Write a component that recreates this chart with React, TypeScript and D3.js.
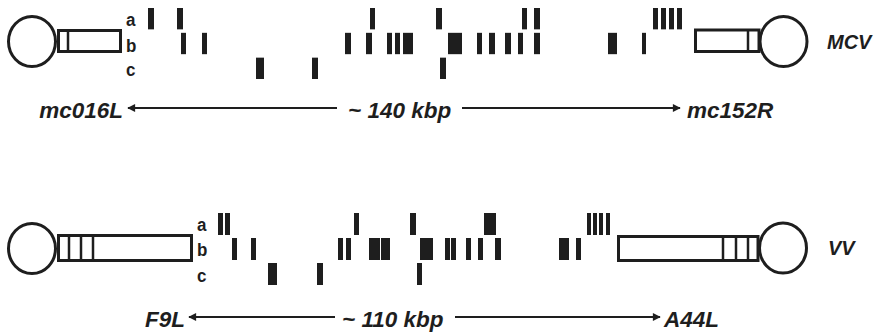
import React, { useEffect, useRef } from 'react';
import * as d3 from 'd3';

// genome map positions (map units) of the marked genes, per row
const rows = ['a', 'b', 'c'];

const mcvRowA = [[148, 154], [177, 183], [370, 375], [436, 442], [522, 527], [534, 540], [653, 658], [661, 666], [669, 674], [677, 682]];
const mcvRowB = [[181, 186], [202, 207], [345, 351], [366, 372], [387, 392], [395, 400], [403, 413], [448, 462], [477, 482], [489, 495], [505, 511], [518, 523], [534, 540], [608, 617], [642, 646]];
const mcvRowC = [[256, 264], [312, 318], [440, 446]];

const vvRowA = [[218, 223], [225, 230], [354, 359], [410, 416], [484, 496], [587, 591], [593, 597], [599, 603], [606, 610]];
const vvRowB = [[232, 237], [251, 256], [338, 343], [346, 351], [369, 380], [381, 390], [420, 433], [445, 450], [451, 456], [466, 471], [478, 483], [495, 501], [559, 569], [576, 581]];
const vvRowC = [[268, 277], [317, 323], [417, 422]];

const mcvLabels = ['mc016L', '~ 140 kbp', 'mc152R'];
const vvLabels = ['F9L', '~ 110 kbp', 'A44L'];

const W = 879;
const H = 333;
const ink = '#1e1e1e';

const App = () => {
  const ref = useRef<SVGSVGElement>(null);

  useEffect(() => {
    const svg = d3.select(ref.current).html('');
    const x = d3.scaleLinear().domain([0, W]).range([0, W]);
    const font = '"Liberation Sans", Arial, sans-serif';

    const defs = svg.append('defs');
    defs.append('marker')
      .attr('id', 'head')
      .attr('viewBox', '0 0 10 10')
      .attr('refX', 9).attr('refY', 5)
      .attr('markerWidth', 4.5).attr('markerHeight', 3.6)
      .attr('orient', 'auto-start-reverse')
      .append('path').attr('d', 'M0,0L10,5L0,10Z').attr('fill', ink);

    const genome = (cfg) => {
      const g = svg.append('g');
      const y = d3.scaleBand().domain(rows).range(cfg.rowRange).paddingInner(cfg.pad);
      const data = [cfg.a, cfg.b, cfg.c];

      // telomere hairpins
      cfg.ends.forEach(e => {
        g.append('ellipse')
          .attr('cx', e.cx).attr('cy', e.cy).attr('rx', 23.5).attr('ry', 25)
          .attr('fill', 'none').attr('stroke', ink).attr('stroke-width', 3);
        g.append('rect')
          .attr('x', e.x0).attr('y', e.y0).attr('width', e.x1 - e.x0).attr('height', e.y1 - e.y0)
          .attr('fill', 'none').attr('stroke', ink).attr('stroke-width', 3);
        e.div.forEach(d => {
          g.append('line').attr('x1', d).attr('x2', d).attr('y1', e.y0).attr('y2', e.y1)
            .attr('stroke', ink).attr('stroke-width', 2.5);
        });
      });

      // row letters
      rows.forEach((r, i) => {
        g.append('text')
          .attr('transform', `translate(${cfg.letterX},${cfg.letterBase[i]}) scale(1,1.12)`)
          .attr('font-family', font).attr('font-weight', 'bold').attr('font-size', 17)
          .attr('fill', ink).text(r);
      });

      // gene bars
      rows.forEach((r, i) => {
        g.selectAll(`rect.bar-${r}`)
          .data(data[i]).enter().append('rect')
          .attr('class', `bar-${r}`)
          .attr('x', d => x(d[0]))
          .attr('width', d => x(d[1]) - x(d[0]))
          .attr('y', y(r))
          .attr('height', y.bandwidth())
          .attr('fill', ink);
      });

      // virus name
      g.append('text')
        .attr('x', cfg.nameX).attr('y', cfg.nameY)
        .attr('font-family', font).attr('font-weight', 'bold').attr('font-style', 'italic')
        .attr('font-size', 20).attr('fill', ink).text(cfg.name);

      // span arrows
      const ay = cfg.arrowY;
      g.append('line').attr('x1', cfg.arrow[1]).attr('x2', cfg.arrow[0]).attr('y1', ay).attr('y2', ay)
        .attr('stroke', ink).attr('stroke-width', 2.2).attr('marker-end', 'url(#head)');
      g.append('line').attr('x1', cfg.arrow[2]).attr('x2', cfg.arrow[3]).attr('y1', ay).attr('y2', ay)
        .attr('stroke', ink).attr('stroke-width', 2.2).attr('marker-end', 'url(#head)');

      const t = (txt, tx, anchor) => g.append('text')
        .attr('x', tx).attr('y', cfg.textY).attr('text-anchor', anchor)
        .attr('font-family', font).attr('font-weight', 'bold').attr('font-style', 'italic')
        .attr('font-size', 22.5).attr('fill', ink).text(txt);
      t(cfg.labels[0], cfg.textX[0], 'end');
      t(cfg.labels[1], cfg.textX[1], 'start');
      t(cfg.labels[2], cfg.textX[2], 'start');
    };

    genome({
      name: 'MCV', nameX: 827, nameY: 49,
      a: mcvRowA, b: mcvRowB, c: mcvRowC,
      rowRange: [8, 79], pad: 0.14,
      letterX: 126, letterBase: [26, 52, 76],
      ends: [
        { cx: 32, cy: 41.5, x0: 58.5, x1: 120.5, y0: 30.5, y1: 51.5, div: [68] },
        { cx: 783.5, cy: 41.5, x0: 695.5, x1: 759, y0: 30, y1: 51.5, div: [748] },
      ],
      labels: mcvLabels, textX: [123, 348, 687], textY: 118,
      arrowY: 108, arrow: [128, 337, 462, 680],
    });

    genome({
      name: 'VV', nameX: 828, nameY: 255,
      a: vvRowA, b: vvRowB, c: vvRowC,
      rowRange: [213, 285], pad: 0.12,
      letterX: 197, letterBase: [231, 256, 282],
      ends: [
        { cx: 32, cy: 248.5, x0: 58.5, x1: 191.5, y0: 235.5, y1: 260.5, div: [69, 81, 93] },
        { cx: 783, cy: 248, x0: 618.5, x1: 758, y0: 236.5, y1: 260.5, div: [723, 736, 748] },
      ],
      labels: vvLabels, textX: [185, 342, 664], textY: 327,
      arrowY: 317, arrow: [189, 335, 455, 660],
    });
  }, []);

  return (
    <svg ref={ref} width={W} height={H}
      style={{ position: 'absolute', left: 0, top: 0, background: '#fff' }} />
  );
};

export default App;
